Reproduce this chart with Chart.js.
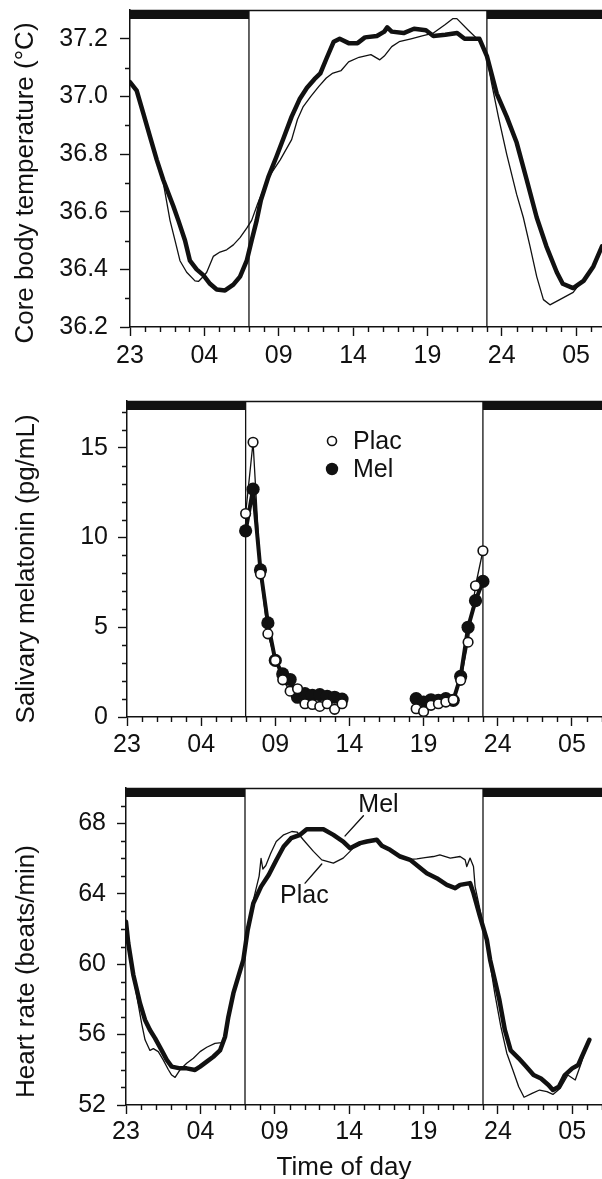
<!DOCTYPE html>
<html><head><meta charset="utf-8">
<script src="https://cdn.jsdelivr.net/npm/chart.js@4.4.1/dist/chart.umd.min.js"></script>
<style>
html,body{margin:0;padding:0;background:#fff;overflow:hidden;width:602px;height:1179px}
.panel{position:absolute;left:0;width:602px}
canvas{display:block}
</style></head><body>
<div class="panel" style="top:0;height:380px"><canvas id="c1" width="602" height="380"></canvas></div>
<div class="panel" style="top:380px;height:380px"><canvas id="c2" width="602" height="380"></canvas></div>
<div class="panel" style="top:760px;height:419px"><canvas id="c3" width="602" height="419"></canvas></div>
<script>
// ---------- data (x = hours elapsed since 23:00) ----------
const xTickHours = [0, 5, 10, 15, 20, 25, 30];
const xTickLabels = ['23', '04', '09', '14', '19', '24', '05'];
const lightsOff = [[0, 8], [24, 33]];
const lightsSwitch = [8, 24];

// Core body temperature
const tempTicks = [36.2, 36.4, 36.6, 36.8, 37.0, 37.2];
const tempMelHours = [0, 0.45, 0.9, 1.35, 1.8, 2.24, 2.91, 3.25, 3.7, 4.03,
  4.48, 4.93, 5.38, 5.83, 6.39, 6.95, 7.4, 7.85, 8.18, 8.52,
  8.8, 9.3, 9.84, 10.36, 10.87, 11.4, 11.9, 12.4, 12.8, 13.2,
  13.7, 14.1, 14.7, 15.3, 15.8, 16.6, 17.1, 17.3, 17.6, 18.4,
  19.1, 19.9, 20.4, 21.2, 22.0, 22.5, 23.5, 24.0, 24.66, 25.33,
  26.0, 26.68, 27.35, 28.0, 28.7, 29.1, 29.8, 30.5, 31.16, 31.74];
const tempMel = [37.05, 37.02, 36.94, 36.86, 36.78, 36.71, 36.62, 36.57, 36.50, 36.43,
  36.40, 36.38, 36.35, 36.33, 36.327, 36.347, 36.375, 36.43, 36.50, 36.57,
  36.64, 36.72, 36.79, 36.86, 36.93, 36.99, 37.03, 37.06, 37.08, 37.13,
  37.19, 37.20, 37.185, 37.185, 37.205, 37.21, 37.225, 37.24, 37.225, 37.22,
  37.235, 37.23, 37.21, 37.214, 37.22, 37.2, 37.2, 37.14, 37.01, 36.93,
  36.84, 36.71, 36.58, 36.48, 36.39, 36.35, 36.335, 36.36, 36.41, 36.48];
const tempPlacHours = [0, 0.45, 0.9, 1.35, 1.8, 2.24, 2.69, 3.03, 3.36, 3.81,
  4.37, 4.6, 4.93, 5.16, 5.6, 6.05, 6.5, 6.95, 7.4, 7.85,
  8.18, 8.6, 9.33, 10.1, 10.87, 11.26, 11.65, 12.16, 12.7, 13.2,
  13.6, 14.2, 14.7, 15.4, 16.2, 16.8, 17.1, 17.6, 18.1, 18.9,
  19.65, 20.4, 21.2, 21.7, 21.98, 22.75, 23.65, 24.0, 24.3, 24.77,
  25.33, 26.0, 26.45, 26.9, 27.35, 27.8, 28.24, 28.9, 29.8, 30.1,
  30.5, 31.16, 31.74];
const tempPlac = [37.05, 37.02, 36.94, 36.86, 36.78, 36.70, 36.57, 36.50, 36.43, 36.39,
  36.36, 36.358, 36.375, 36.39, 36.445, 36.46, 36.468, 36.485, 36.51, 36.543,
  36.57, 36.63, 36.72, 36.78, 36.85, 36.92, 36.965, 37.0, 37.035, 37.064,
  37.08, 37.09, 37.12, 37.136, 37.145, 37.127, 37.14, 37.173, 37.19, 37.2,
  37.21, 37.22, 37.25, 37.27, 37.27, 37.23, 37.185, 37.14, 37.05, 36.93,
  36.8, 36.66, 36.58, 36.48, 36.375, 36.295, 36.277, 36.295, 36.32, 36.34,
  36.36, 36.41, 36.48];

// Salivary melatonin
const melTicks = [0, 5, 10, 15];
const melAMHours = [8.0, 8.5, 9.0, 9.5, 10.0, 10.5, 11.0, 11.5, 12.0, 12.5, 13.0, 13.5, 14.0, 14.5];
const melAMPlac = [11.33, 15.3, 7.96, 4.63, 3.15, 2.07, 1.44, 1.57, 0.74, 0.70, 0.59, 0.74, 0.43, 0.74];
const melAMMel = [10.37, 12.69, 8.19, 5.24, 3.15, 2.4, 2.09, 1.1, 1.3, 1.2, 1.25, 1.15, 1.1, 1.0];
const melPMHours = [19.5, 20.0, 20.5, 21.0, 21.5, 22.0, 22.5, 23.0, 23.5, 24.0];
const melPMPlac = [0.46, 0.31, 0.65, 0.74, 0.83, 0.96, 2.04, 4.17, 7.31, 9.26];
const melPMMel = [1.02, 0.83, 0.96, 0.93, 1.02, 0.93, 2.26, 5.0, 6.48, 7.55];

// Heart rate
const hrTicks = [52, 56, 60, 64, 68];
const hrMelHours = [0, 0.15, 0.49, 0.94, 1.28, 1.61, 1.95, 2.4, 2.74, 3.07,
  3.63, 4.08, 4.64, 4.98, 5.43, 5.87, 6.32, 6.66, 6.88, 7.22,
  7.55, 7.89, 8.18, 8.56, 9.08, 9.6, 10.1, 10.6, 11.1, 11.7,
  12.15, 13.27, 13.94, 14.6, 15.06, 15.74, 16.19, 16.86, 17.2, 17.75,
  18.43, 19.1, 19.66, 20.22, 20.89, 21.57, 22.13, 22.46, 23.13, 23.36,
  23.8, 24.26, 24.48, 25.1, 25.47, 25.86, 26.4, 26.9, 27.4, 27.9,
  28.4, 28.7, 29.1, 29.5, 30.0, 30.4, 30.75, 31.15];
const hrMel = [62.4, 61.2, 59.4, 57.78, 56.83, 56.26, 55.8, 55.1, 54.56, 54.18,
  54.08, 54.08, 53.99, 54.18, 54.46, 54.74, 55.1, 55.88, 57.0, 58.35,
  59.29, 60.24, 61.94, 63.46, 64.4, 65.07, 65.9, 66.68, 67.15, 67.34,
  67.66, 67.66, 67.34, 66.96, 66.58, 66.87, 66.96, 67.06, 66.72, 66.49,
  66.11, 65.92, 65.54, 65.16, 64.88, 64.5, 64.31, 64.5, 64.6, 64.03,
  62.7, 61.38, 60.24, 57.97, 56.26, 55.1, 54.65, 54.18, 53.7, 53.5,
  53.14, 52.85, 53.04, 53.7, 54.08, 54.27, 54.94, 55.7];
const hrPlacHours = [0, 0.15, 0.49, 1.05, 1.28, 1.61, 1.84, 2.17, 2.5, 2.85,
  3.07, 3.3, 3.63, 4.08, 4.53, 4.98, 5.43, 5.98, 6.43, 6.66,
  6.88, 7.22, 7.55, 7.89, 8.2, 8.5, 8.75, 8.95, 9.08, 9.2,
  9.4, 9.73, 10.1, 10.6, 11.15, 11.5, 11.92, 12.6, 13.16, 13.94,
  14.6, 15.06, 15.5, 16.19, 16.86, 17.2, 17.75, 18.43, 19.1, 19.55,
  20.1, 20.67, 21.1, 21.8, 22.46, 22.8, 22.91, 23.13, 23.36, 23.47,
  23.8, 24.26, 24.48, 24.8, 25.2, 25.6, 26.0, 26.4, 26.76, 27.3,
  27.8, 28.3, 28.7, 29.2, 29.7, 30.2, 30.6, 31.0];
const hrPlac = [62.4, 61.2, 59.3, 56.64, 55.7, 55.1, 55.2, 55.03, 54.56, 54.0,
  53.7, 53.57, 54.0, 54.37, 54.65, 55.03, 55.28, 55.5, 55.54, 55.88,
  57.0, 58.35, 59.29, 60.24, 62.0, 63.4, 64.3, 65.0, 66.0, 65.4,
  65.6, 66.3, 66.96, 67.34, 67.53, 67.5, 67.06, 66.4, 65.92, 65.73,
  66.02, 66.4, 66.8, 66.96, 67.06, 66.72, 66.49, 66.11, 65.95, 65.98,
  66.05, 66.11, 66.2, 66.02, 66.11, 65.92, 65.54, 66.02, 65.54, 64.4,
  63.08, 61.2, 60.0, 58.3, 56.45, 54.94, 54.0, 53.04, 52.44, 52.66,
  52.85, 52.76, 52.6, 52.95, 53.7, 53.42, 54.37, 55.5];
// annotation anchors (hours, bpm) for the Mel / Plac labels and leader lines
const hrLabelMel = [15.62, 68.66];
const hrLabelPlac = [10.36, 63.46];
const hrLeaderMel = [[15.96, 68.42], [14.73, 67.28]];
const hrLeaderPlac = [[13.16, 65.68], [12.04, 64.6]];

// ---------- styling / helpers ----------
const FONT = "'Liberation Sans', Arial, Helvetica, sans-serif";
const INK = '#111';

function series(hours, values) { return hours.map((h, i) => ({ x: h, y: values[i] })); }
function gapSeries(h1, v1, h2, v2) {
  return series(h1, v1).concat([{ x: (h1[h1.length - 1] + h2[0]) / 2, y: null }], series(h2, v2));
}
function lightsDatasets(yMin, yMax) {
  const ds = [];
  lightsOff.forEach(([a, b]) => ds.push({ label: 'dark', data: [{ x: a, y: yMax }, { x: b, y: yMax }],
    borderColor: INK, borderWidth: 18, borderCapStyle: 'butt', pointRadius: 0, clip: 0, order: 10 }));
  lightsSwitch.forEach(h => ds.push({ label: 'switch', data: [{ x: h, y: yMin }, { x: h, y: yMax }],
    borderColor: INK, borderWidth: 1.3, pointRadius: 0, order: 10 }));
  return ds;
}

function makeFrame(o) {
  return {
    id: 'frame',
    afterDraw(chart) {
      const { ctx, chartArea: a, scales: { x, y } } = chart;
      ctx.save();
      ctx.strokeStyle = INK;
      ctx.lineWidth = 1.5;
      ctx.beginPath(); ctx.moveTo(a.left - 1, a.top + 0.5); ctx.lineTo(a.right, a.top + 0.5); ctx.stroke();
      ctx.lineWidth = 1.4;
      ctx.beginPath();
      for (let h = 0; h <= x.max; h += 1) {
        if (h % 5 === 0) continue;
        const px = Math.round(x.getPixelForValue(h)) + 0.5;
        ctx.moveTo(px, a.bottom); ctx.lineTo(px, a.bottom + o.minorLen);
      }
      const k0 = Math.ceil(y.min / o.yMinor - 1e-6);
      for (let k = k0; k * o.yMinor < y.max - 1e-6; k++) {
        const v = k * o.yMinor;
        const r = v / o.yMajor;
        if (Math.abs(r - Math.round(r)) < 1e-6) continue;
        const py = Math.round(y.getPixelForValue(v)) + 0.5;
        ctx.moveTo(a.left, py); ctx.lineTo(a.left - o.minorLen, py);
      }
      ctx.stroke();
      ctx.restore();
    }
  };
}

function makeTexts(items) {
  return {
    id: 'texts',
    afterDraw(chart) {
      const { ctx, scales: { x, y } } = chart;
      ctx.save();
      ctx.fillStyle = INK;
      items.forEach(t => {
        ctx.font = t.size + 'px ' + FONT;
        let px = t.px, py = t.py;
        if (t.at) { px = x.getPixelForValue(t.at[0]); py = y.getPixelForValue(t.at[1]); }
        ctx.save();
        ctx.translate(px, py);
        if (t.rotate) ctx.rotate(-Math.PI / 2);
        ctx.textAlign = t.align || 'left';
        ctx.textBaseline = 'alphabetic';
        ctx.fillText(t.text, 0, 0);
        ctx.restore();
      });
      ctx.restore();
    }
  };
}

function makeMarkerLegend(o) {
  return {
    id: 'markerLegend',
    afterDraw(chart) {
      const { ctx, chartArea: a } = chart;
      ctx.save();
      chart.data.datasets.filter(d => d.inLegend).forEach((d, i) => {
        const cx = a.left + o.dx, cy = a.top + o.dy + i * o.gap;
        ctx.beginPath();
        ctx.arc(cx, cy, d.legendRadius, 0, Math.PI * 2);
        ctx.fillStyle = d.pointBackgroundColor; ctx.fill();
        if (d.pointBorderWidth) { ctx.lineWidth = d.pointBorderWidth; ctx.strokeStyle = d.pointBorderColor; ctx.stroke(); }
        ctx.fillStyle = INK;
        ctx.font = o.size + 'px ' + FONT;
        ctx.textAlign = 'left'; ctx.textBaseline = 'middle';
        ctx.fillText(d.label, a.left + o.textDx, cy + 1);
      });
      ctx.restore();
    }
  };
}

function buildChart(id, c) {
  return new Chart(document.getElementById(id), {
    type: 'line',
    data: { datasets: c.datasets },
    options: {
      responsive: false, animation: false, devicePixelRatio: 1,
      layout: { autoPadding: false, padding: { top: c.padTop, left: 0, right: 0, bottom: 0 } },
      plugins: { legend: { display: false }, tooltip: { enabled: false } },
      elements: { point: { radius: 0 }, line: { tension: 0, borderJoinStyle: 'round', borderCapStyle: 'round' } },
      scales: {
        x: {
          type: 'linear', min: 0, max: c.xMax,
          afterBuildTicks: s => { s.ticks = xTickHours.map(v => ({ value: v })); },
          afterFit: s => { s.height = c.xAxisHeight; s.paddingLeft = 0; s.paddingRight = 0; s.paddingTop = 0; s.paddingBottom = 0; },
          ticks: { autoSkip: false, maxRotation: 0, font: { family: FONT, size: 25 }, color: INK, padding: c.xPad,
            callback: (v, i) => xTickLabels[i] },
          grid: { drawOnChartArea: false, drawTicks: true, tickLength: 9, tickWidth: 1.4, tickColor: INK },
          border: { display: true, color: INK, width: 1.5 }
        },
        y: {
          type: 'linear', min: c.yMin, max: c.yMax,
          afterBuildTicks: s => { s.ticks = c.yTicks.map(v => ({ value: v })); },
          afterFit: s => { s.width = c.yAxisWidth; s.paddingLeft = 0; s.paddingRight = 0; s.paddingTop = 0; s.paddingBottom = 0; },
          ticks: { autoSkip: false, font: { family: FONT, size: 25 }, color: INK, padding: c.yPad,
            callback: c.yFormat },
          grid: { drawOnChartArea: false, drawTicks: true, tickLength: c.yTickLen, tickWidth: 1.4, tickColor: INK },
          border: { display: true, color: INK, width: 1.5 }
        }
      }
    },
    plugins: c.plugins
  });
}

// ---------- panel 1: core body temperature ----------
buildChart('c1', {
  padTop: 10, xAxisHeight: 53, yAxisWidth: 130, xMax: 31.74, xPad: 5,
  yMin: 36.2, yMax: 37.3, yTicks: tempTicks, yPad: 12, yTickLen: 10, yFormat: v => v.toFixed(1),
  datasets: [
    { label: 'Plac', data: series(tempPlacHours, tempPlac), borderColor: INK, borderWidth: 1.3, pointRadius: 0 },
    { label: 'Mel', data: series(tempMelHours, tempMel), borderColor: INK, borderWidth: 4.5, pointRadius: 0 },
    ...lightsDatasets(36.2, 37.3)
  ],
  plugins: [
    makeFrame({ minorLen: 5, yMinor: 0.1, yMajor: 0.2 }),
    makeTexts([{ text: 'Core body temperature (°C)', px: 33, py: 183, rotate: true, align: 'center', size: 26 }])
  ]
});

// ---------- panel 2: salivary melatonin ----------
buildChart('c2', {
  padTop: 21, xAxisHeight: 43, yAxisWidth: 127, xMax: 32.03, xPad: 4.5,
  yMin: 0, yMax: 17.6, yTicks: melTicks, yPad: 10, yTickLen: 9, yFormat: v => String(v),
  datasets: [
    { label: 'Plac', inLegend: true, legendRadius: 4.5, data: gapSeries(melAMHours, melAMPlac, melPMHours, melPMPlac),
      borderColor: INK, borderWidth: 1.3, spanGaps: false,
      pointRadius: 4.8, pointBackgroundColor: '#fff', pointBorderColor: INK, pointBorderWidth: 1.6 },
    { label: 'Mel', inLegend: true, legendRadius: 6.2, data: gapSeries(melAMHours, melAMMel, melPMHours, melPMMel),
      borderColor: INK, borderWidth: 4, spanGaps: false,
      pointRadius: 6.6, pointBackgroundColor: INK, pointBorderColor: INK, pointBorderWidth: 0 },
    ...lightsDatasets(0, 17.6)
  ],
  plugins: [
    makeFrame({ minorLen: 5, yMinor: 1, yMajor: 5 }),
    makeMarkerLegend({ dx: 205, dy: 40, gap: 28, textDx: 226, size: 25 }),
    makeTexts([{ text: 'Salivary melatonin (pg/mL)', px: 34, py: 189, rotate: true, align: 'center', size: 26 }])
  ]
});

// ---------- panel 3: heart rate ----------
buildChart('c3', {
  padTop: 28, xAxisHeight: 74, yAxisWidth: 126, xMax: 32.0, xPad: 3.5,
  yMin: 52, yMax: 70, yTicks: hrTicks, yPad: 11, yTickLen: 9, yFormat: v => String(v),
  datasets: [
    { label: 'Plac', data: series(hrPlacHours, hrPlac), borderColor: INK, borderWidth: 1.3, pointRadius: 0 },
    { label: 'Mel', data: series(hrMelHours, hrMel), borderColor: INK, borderWidth: 4.5, pointRadius: 0 },
    { label: 'leader Mel', data: hrLeaderMel.map(p => ({ x: p[0], y: p[1] })), borderColor: INK, borderWidth: 1.4, pointRadius: 0 },
    { label: 'leader Plac', data: hrLeaderPlac.map(p => ({ x: p[0], y: p[1] })), borderColor: INK, borderWidth: 1.4, pointRadius: 0 },
    ...lightsDatasets(52, 70)
  ],
  plugins: [
    makeFrame({ minorLen: 5, yMinor: 1, yMajor: 4 }),
    makeTexts([
      { text: 'Heart rate (beats/min)', px: 34, py: 211.5, rotate: true, align: 'center', size: 26 },
      { text: 'Time of day', px: 344, py: 415, align: 'center', size: 26 },
      { text: 'Mel', at: hrLabelMel, align: 'left', size: 25 },
      { text: 'Plac', at: hrLabelPlac, align: 'left', size: 25 }
    ])
  ]
});
</script>
</body></html>
